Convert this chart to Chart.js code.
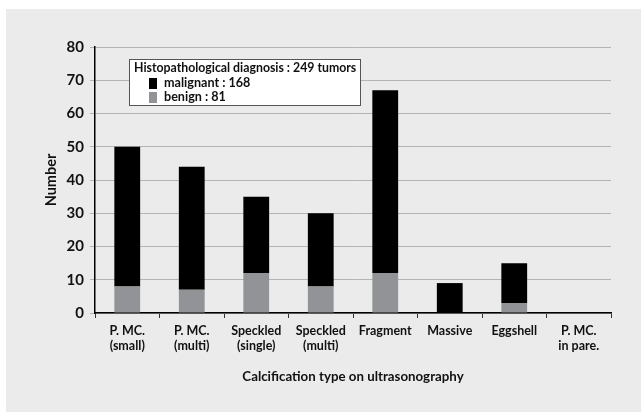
<!DOCTYPE html>
<html>
    <head>
        <title></title>
        <script src="https://cdn.jsdelivr.net/npm/chart.js@4.4.1/dist/chart.umd.min.js"></script>
        <style>
            body { margin: 0; background: #ffffff; }
            #wrap { position: absolute; left: 6px; top: 9px; width: 635px; height: 403px; background: #ebebeb; }
        </style>
        <script>
            const categories = [
                ['P. MC.', '(small)'], ['P. MC.', '(multi)'], ['Speckled', '(single)'], ['Speckled', '(multi)'],
                'Fragment', 'Massive', 'Eggshell', ['P. MC.', 'in pare.']
            ];
            const benign = [8, 7, 12, 8, 12, 0, 3, 0];
            const malignant = [42, 37, 23, 22, 55, 9, 12, 0];
            const legendTitle = 'Histopathological diagnosis : 249 tumors';
            const legendLabels = ['malignant : 168', 'benign : 81'];
            const yTicks = [0, 10, 20, 30, 40, 50, 60, 70, 80];

            const fontFamily = 'Lato, "Open Sans", sans-serif';

            // draws the boxed legend inside the plot
            const boxLegend = {
                id: 'boxLegend',
                afterDraw(chart) {
                    const ctx = chart.ctx;
                    const area = chart.chartArea;
                    const x = area.left + 34, y = area.top + 12;
                    const w = 231, h = 46;
                    ctx.save();
                    ctx.fillStyle = '#ffffff';
                    ctx.fillRect(x, y, w, h);
                    ctx.strokeStyle = '#555555';
                    ctx.lineWidth = 1;
                    ctx.strokeRect(x + 0.5, y + 0.5, w, h);
                    ctx.fillStyle = '#111111';
                    ctx.textBaseline = 'middle';
                    ctx.font = 'bold 12.3px ' + fontFamily;
                    ctx.fillText(legendTitle, x + 5, y + 9);
                    ctx.font = 'bold 12.6px ' + fontFamily;
                    const colors = ['#000000', '#929397'];
                    legendLabels.forEach(function(label, i) {
                        const ly = y + 24 + i * 14;
                        ctx.fillStyle = colors[i];
                        ctx.fillRect(x + 20, ly - 5, 8, 11);
                        ctx.fillStyle = '#111111';
                        ctx.fillText(label, x + 35, ly);
                    });
                    ctx.restore();
                }
            };

            function loaded()
            {
                const ctx = document.getElementById('chart');
                new Chart(ctx, {
                    type: 'bar',
                    data: {
                        labels: categories,
                        datasets: [{
                            label: 'benign',
                            data: benign,
                            backgroundColor: '#929397'
                        }, {
                            label: 'malignant',
                            data: malignant,
                            backgroundColor: '#000000'
                        }]
                    },
                    options: {
                        animation: false,
                        responsive: false,
                        layout: { padding: { left: 33, top: 38, right: 30, bottom: 27 } },
                        datasets: { bar: { categoryPercentage: 1, barPercentage: 0.4 } },
                        plugins: {
                            legend: { display: false },
                            tooltip: { enabled: false }
                        },
                        scales: {
                            x: {
                                stacked: true,
                                afterFit: function(scale) { scale.height = 72; },
                                grid: { drawOnChartArea: false, drawTicks: true, tickLength: 5, color: '#333333', offset: true },
                                border: { color: '#000000', width: 1.5 },
                                ticks: { color: '#111111', padding: 5, maxRotation: 0, autoSkip: false,
                                         font: { family: fontFamily, size: 12.5, weight: 'bold', lineHeight: 1.25 } },
                                title: { display: true, text: 'Calcification type on ultrasonography', color: '#111111',
                                         padding: { top: 12, bottom: 0 },
                                         font: { family: fontFamily, size: 13.3, weight: 'bold' } }
                            },
                            y: {
                                stacked: true,
                                min: 0,
                                max: 80,
                                afterFit: function(scale) { scale.width = 56; },
                                afterBuildTicks: function(scale) { scale.ticks = yTicks.map(v => ({ value: v })); },
                                grid: { color: '#b4b4b4', lineWidth: 1, tickLength: 5 },
                                border: { color: '#000000', width: 1.5 },
                                ticks: { color: '#111111', padding: 6,
                                         font: { family: fontFamily, size: 15, weight: 'bold' } },
                                title: { display: true, text: 'Number', color: '#111111',
                                         font: { family: fontFamily, size: 14.5, weight: 'bold' } }
                            }
                        }
                    },
                    plugins: [boxLegend]
                });
            }

            window.addEventListener('load', loaded, true);
        </script>
    </head>
    <body>
        <div id="wrap">
            <canvas id="chart" width="635" height="403"></canvas>
        </div>
    </body>
</html>
